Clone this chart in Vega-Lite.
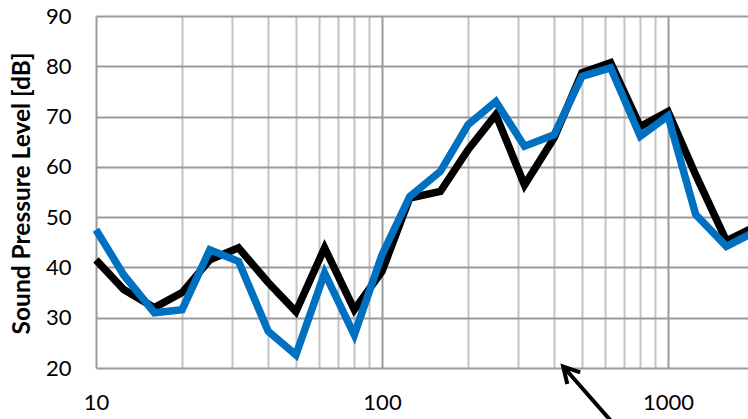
{
  "$schema": "https://vega.github.io/schema/vega-lite/v6.json",
  "autosize": {"type": "none"},
  "padding": {"left": 96, "top": 16, "right": 0, "bottom": 51},
  "width": 858,
  "height": 352,
  "background": "white",
  "config": {
    "view": {"stroke": null},
    "font": "Lato"
  },
  "datasets": {
    "spl": [
      {"freq": 10, "level": 41.5, "series": "A"},
      {"freq": 12.5, "level": 35.6, "series": "A"},
      {"freq": 16, "level": 32.0, "series": "A"},
      {"freq": 20, "level": 35.0, "series": "A"},
      {"freq": 25, "level": 41.5, "series": "A"},
      {"freq": 31.5, "level": 43.9, "series": "A"},
      {"freq": 40, "level": 37.0, "series": "A"},
      {"freq": 50, "level": 31.2, "series": "A"},
      {"freq": 63, "level": 43.9, "series": "A"},
      {"freq": 80, "level": 31.6, "series": "A"},
      {"freq": 100, "level": 39.2, "series": "A"},
      {"freq": 125, "level": 53.8, "series": "A"},
      {"freq": 160, "level": 55.1, "series": "A"},
      {"freq": 200, "level": 63.4, "series": "A"},
      {"freq": 250, "level": 70.4, "series": "A"},
      {"freq": 315, "level": 56.4, "series": "A"},
      {"freq": 400, "level": 65.8, "series": "A"},
      {"freq": 500, "level": 78.7, "series": "A"},
      {"freq": 630, "level": 80.7, "series": "A"},
      {"freq": 800, "level": 68.0, "series": "A"},
      {"freq": 1000, "level": 71.0, "series": "A"},
      {"freq": 1250, "level": 58.4, "series": "A"},
      {"freq": 1600, "level": 45.3, "series": "A"},
      {"freq": 2000, "level": 48.0, "series": "A"},
      {"freq": 10, "level": 47.5, "series": "B"},
      {"freq": 12.5, "level": 38.5, "series": "B"},
      {"freq": 16, "level": 31.0, "series": "B"},
      {"freq": 20, "level": 31.6, "series": "B"},
      {"freq": 25, "level": 43.5, "series": "B"},
      {"freq": 31.5, "level": 41.2, "series": "B"},
      {"freq": 40, "level": 27.3, "series": "B"},
      {"freq": 50, "level": 22.6, "series": "B"},
      {"freq": 63, "level": 38.9, "series": "B"},
      {"freq": 80, "level": 26.6, "series": "B"},
      {"freq": 100, "level": 42.5, "series": "B"},
      {"freq": 125, "level": 54.1, "series": "B"},
      {"freq": 160, "level": 59.1, "series": "B"},
      {"freq": 200, "level": 68.4, "series": "B"},
      {"freq": 250, "level": 73.0, "series": "B"},
      {"freq": 315, "level": 64.1, "series": "B"},
      {"freq": 400, "level": 66.4, "series": "B"},
      {"freq": 500, "level": 78.0, "series": "B"},
      {"freq": 630, "level": 79.7, "series": "B"},
      {"freq": 800, "level": 66.1, "series": "B"},
      {"freq": 1000, "level": 70.1, "series": "B"},
      {"freq": 1250, "level": 50.5, "series": "B"},
      {"freq": 1600, "level": 44.2, "series": "B"},
      {"freq": 2000, "level": 47.0, "series": "B"}
    ],
    "arrow": [
      {"freq": 430, "level": 20.3, "freq2": 673, "level2": 7.7}
    ]
  },
  "layer": [
    {
      "data": {"name": "spl"},
      "mark": {"type": "line", "strokeWidth": 7.5, "strokeJoin": "miter", "strokeCap": "butt"},
      "encoding": {
        "x": {
          "field": "freq",
          "type": "quantitative",
          "scale": {"type": "log", "domain": [10, 10000], "nice": false},
          "axis": {
            "values": [10, 20, 30, 40, 50, 60, 70, 80, 90, 100, 200, 300, 400, 500, 600, 700, 800, 900, 1000, 2000, 3000, 4000, 5000, 6000, 7000, 8000, 9000, 10000],
            "labelExpr": "indexof([10, 100, 1000], datum.value) >= 0 ? datum.value : ''",
            "title": null,
            "domain": false,
            "ticks": false,
            "grid": true,
            "gridWidth": 2,
            "gridColor": {
              "condition": {"test": "indexof([10, 100, 1000, 10000], datum.value) >= 0", "value": "#9a9a9a"},
              "value": "#c4c4c4"
            },
            "labelFontSize": 22,
            "labelColor": "#000000",
            "labelPadding": 24,
            "labelFlush": false,
            "labelOverlap": false
          }
        },
        "y": {
          "field": "level",
          "type": "quantitative",
          "scale": {"domain": [20, 90], "zero": false, "nice": false},
          "axis": {
            "values": [20, 30, 40, 50, 60, 70, 80, 90],
            "title": "Sound Pressure Level [dB]",
            "titleFontSize": 24.5,
            "titleFontWeight": "bold",
            "titleColor": "#000000",
            "titleX": -74,
            "titleY": 177,
            "titleAngle": 270,
            "titleAlign": "center",
            "titleBaseline": "middle",
            "domain": false,
            "ticks": false,
            "grid": true,
            "gridWidth": 2,
            "gridColor": "#9a9a9a",
            "labelFontSize": 22,
            "labelColor": "#000000",
            "labelPadding": 25
          }
        },
        "color": {
          "field": "series",
          "type": "nominal",
          "scale": {"domain": ["A", "B"], "range": ["#000000", "#0070C0"]},
          "legend": null
        }
      }
    },
    {
      "data": {"name": "arrow"},
      "mark": {"type": "rule", "strokeWidth": 4, "color": "#000000"},
      "encoding": {
        "x": {"field": "freq", "type": "quantitative"},
        "y": {"field": "level", "type": "quantitative"},
        "x2": {"field": "freq2"},
        "y2": {"field": "level2"}
      }
    },
    {
      "data": {"name": "arrow"},
      "mark": {
        "type": "point",
        "shape": "M -0.55 1 L 0 0 L 0.55 1",
        "size": 1000,
        "angle": -42,
        "filled": false,
        "strokeWidth": 4,
        "color": "#000000",
        "opacity": 1
      },
      "encoding": {
        "x": {"field": "freq", "type": "quantitative"},
        "y": {"field": "level", "type": "quantitative"}
      }
    }
  ]
}
